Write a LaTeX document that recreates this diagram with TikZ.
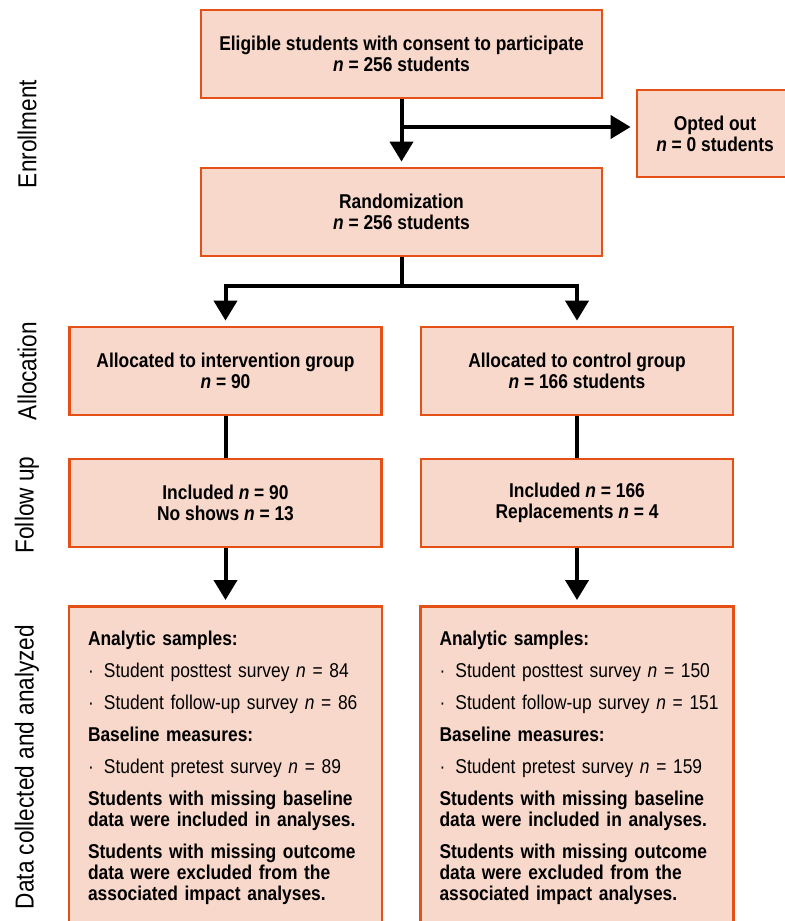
\documentclass[tikz,border=0pt]{standalone}
\usepackage{fontspec}
\setmainfont[FakeStretch=0.87]{Liberation Sans}
\usepackage{tikz}
\usetikzlibrary{arrows.meta, positioning}
\definecolor{boxorange}{RGB}{228,80,22}
\definecolor{boxfill}{RGB}{248,216,203}

\begin{document}
\begin{tikzpicture}[x=0.5pt, y=-0.5pt,
		box/.style={draw=boxorange, fill=boxfill, line width=1.4pt,
			minimum height=44pt, align=center,
			font=\fontsize{10}{10.5}\selectfont\bfseries},
		wide/.style={box, minimum width=200.5pt},
		half/.style={box, minimum width=156pt},
		databox/.style={draw=boxorange, fill=boxfill, line width=1.4pt,
			text width=137.5pt, inner xsep=9.5pt, inner ysep=12.5pt, align=left,
			font=\fontsize{10}{10.5}\selectfont},
		phase/.style={rotate=90, font=\fontsize{13}{15}\selectfont},
		arrow/.style={-{Triangle[length=10pt, width=11.5pt]}, line width=2pt, shorten >=2.5pt},
		link/.style={line width=2pt}
	]
		\clip (0,0) rectangle (785,921);
		\newcommand{\itm}[1]{\mbox{\makebox[8pt][l]{\textperiodcentered}#1}}

		% phase labels
		\node[phase] (penrol) at (27,134) {Enrollment};
		\node[phase] (palloc) at (27,371) {Allocation};
		\node[phase] (pfollow) at (27,505) {Follow up};
		\node[phase] (pdata) at (27,767) {Data collected and analyzed};

		% boxes
		\node[wide] (elig) at (401.5,54) {Eligible students with consent to participate\\\textit{n} = 256 students};
		\node[box, minimum width=78pt, minimum height=43.5pt] (optout) at (715,133.5) {Opted out\\\textit{n} = 0 students};
		\node[wide] (rand) at (401.5,212) {Randomization\\\textit{n} = 256 students};
		\node[half] (intv) at (225.5,371) {Allocated to intervention group\\\textit{n} = 90};
		\node[half] (ctrl) at (577,371) {Allocated to control group\\\textit{n} = 166 students};
		\node[half] (incl1) at (225.5,503) {Included \textit{n} = 90\\No shows \textit{n} = 13};
		\node[half] (incl2) at (577,503) {Included \textit{n} = 166\\Replacements \textit{n} = 4};
		\node[databox, anchor=north] (data1) at (225.5,605) {%
			\textbf{Analytic samples:}\\[5.5pt]
			\itm{Student posttest survey \textit{n} = 84}\\[5.5pt]
			\itm{Student follow-up survey \textit{n} = 86}\\[5.5pt]
			\textbf{Baseline measures:}\\[5.5pt]
			\itm{Student pretest survey \textit{n} = 89}\\[5.5pt]
			\textbf{Students with missing baseline}\\
			\textbf{data were included in analyses.}\\[5.5pt]
			\textbf{Students with missing outcome}\\
			\textbf{data were excluded from the}\\
			\textbf{associated impact analyses.}};
		\node[databox, anchor=north] (data2) at (577,605) {%
			\textbf{Analytic samples:}\\[5.5pt]
			\itm{Student posttest survey \textit{n} = 150}\\[5.5pt]
			\itm{Student follow-up survey \textit{n} = 151}\\[5.5pt]
			\textbf{Baseline measures:}\\[5.5pt]
			\itm{Student pretest survey \textit{n} = 159}\\[5.5pt]
			\textbf{Students with missing baseline}\\
			\textbf{data were included in analyses.}\\[5.5pt]
			\textbf{Students with missing outcome}\\
			\textbf{data were excluded from the}\\
			\textbf{associated impact analyses.}};

		% connectors
		\coordinate (split1) at (401.5,127);
		\coordinate (split2) at (401.5,286);
		\draw[arrow] (elig) -- (rand);
		\draw[arrow] (split1) -- (split1 -| optout.west);
		\draw[link] (rand) -- (split2);
		\draw[arrow] (split2) -| (intv);
		\draw[arrow] (split2) -| (ctrl);
		\foreach \a/\b in {intv/incl1,ctrl/incl2}
			\draw[link] (\a) -- (\b);
		\foreach \a/\b in {incl1/data1,incl2/data2}
			\draw[arrow] (\a) -- (\b);
	\end{tikzpicture}
\end{document}
